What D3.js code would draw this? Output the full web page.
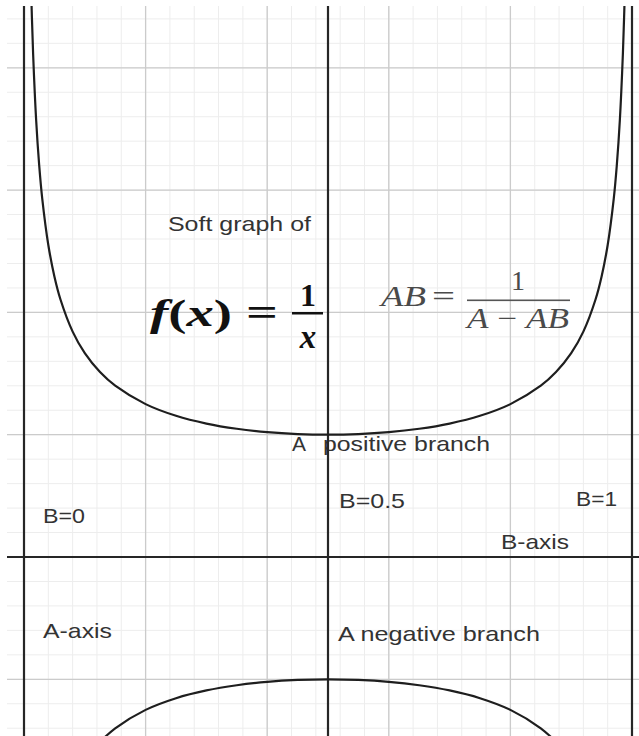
<!DOCTYPE html>
<html>
<head>
<meta charset="utf-8">
<script src="https://cdn.jsdelivr.net/npm/d3@7"></script>
<style>
  html, body { margin: 0; padding: 0; background: #fff; }
  svg { display: block; }
</style>
</head>
<body>
<svg id="chart" width="639" height="736"></svg>
<script>
// ---- Data ----
// B values (horizontal) and the A values of the upper (positive) branch
const bValues = [0.0121, 0.013, 0.015, 0.02, 0.025, 0.03, 0.04, 0.05, 0.06, 0.08, 0.1, 0.125, 0.15, 0.2, 0.25, 0.3, 0.35, 0.4, 0.45, 0.5,
                 0.55, 0.6, 0.65, 0.7, 0.75, 0.8, 0.85, 0.875, 0.9, 0.92, 0.94, 0.95, 0.96, 0.97, 0.975, 0.98, 0.985, 0.987, 0.9879];
const aPositive = [9.146, 8.828, 8.227, 7.143, 6.405, 5.862, 5.103, 4.588, 4.211, 3.686, 3.333, 3.024, 2.801, 2.5, 2.309, 2.182, 2.097, 2.041, 2.010, 2.0,
                   2.010, 2.041, 2.097, 2.182, 2.309, 2.5, 2.801, 3.024, 3.333, 3.686, 4.211, 4.588, 5.103, 5.862, 6.405, 7.143, 8.227, 8.828, 9.146];
// lower (negative) branch, only its visible part
const bNegative = [0.11, 0.125, 0.15, 0.2, 0.25, 0.3, 0.35, 0.4, 0.45, 0.5, 0.55, 0.6, 0.65, 0.7, 0.75, 0.8, 0.85, 0.875, 0.89];
const aNegative = [-3.195, -3.024, -2.801, -2.5, -2.309, -2.182, -2.097, -2.041, -2.010, -2.0, -2.010, -2.041, -2.097, -2.182, -2.309, -2.5, -2.801, -3.024, -3.195];

// Grid values
const bMajor = [0.2, 0.4, 0.6, 0.8];
const bAxes = [0, 0.5, 1];
const aMajor = [-2, 2, 4, 6, 8];
const aAxes = [0];
const bMinorStep = 0.04;
const aMinorStep = 0.4;

// Text labels
const labelTexts = ["Soft graph of", "A", "positive branch", "B=0", "B=0.5", "B=1", "B-axis", "A-axis", "A negative branch"];
const labelB = [0.2368, 0.4408, 0.4918, 0.0313, 0.5181, 0.9079, 0.7845, 0.0313, 0.5164];
const labelA = [5.33, 1.733, 1.733, 0.556, 0.801, 0.834, 0.131, -1.325, -1.374];
const labelW = [143, 14, 167, 42, 66, 41, 68, 69, 202];

// ---- Layout ----
const svg = d3.select("#chart");
const plot = { left: 7, top: 6, right: 639, bottom: 736 };

const x = d3.scaleLinear().domain([0, 1]).range([24, 632]);
const y = d3.scaleLinear().domain([0, 2]).range([557, 434.7]);

svg.append("defs").append("clipPath").attr("id", "clip")
  .append("rect").attr("x", plot.left).attr("y", plot.top)
  .attr("width", plot.right - plot.left).attr("height", plot.bottom - plot.top);

const g = svg.append("g").attr("clip-path", "url(#clip)");

const bLo = x.invert(plot.left), bHi = x.invert(plot.right);
const aLo = y.invert(plot.bottom), aHi = y.invert(plot.top);

// minor grid
const bMinor = d3.range(Math.ceil(bLo / bMinorStep), Math.floor(bHi / bMinorStep) + 1).map(i => +(i * bMinorStep).toFixed(4));
const aMinor = d3.range(Math.ceil(aLo / aMinorStep), Math.floor(aHi / aMinorStep) + 1).map(i => +(i * aMinorStep).toFixed(4));

g.append("g").selectAll("line").data(bMinor).join("line")
  .attr("x1", d => x(d)).attr("x2", d => x(d)).attr("y1", plot.top).attr("y2", plot.bottom)
  .attr("stroke", "#ededed").attr("stroke-width", 1);
g.append("g").selectAll("line").data(aMinor).join("line")
  .attr("y1", d => y(d)).attr("y2", d => y(d)).attr("x1", plot.left).attr("x2", plot.right)
  .attr("stroke", "#ededed").attr("stroke-width", 1);

// major grid
g.append("g").selectAll("line").data(bMajor).join("line")
  .attr("x1", d => x(d)).attr("x2", d => x(d)).attr("y1", plot.top).attr("y2", plot.bottom)
  .attr("stroke", "#cbcbcb").attr("stroke-width", 1.3);
g.append("g").selectAll("line").data(aMajor).join("line")
  .attr("y1", d => y(d)).attr("y2", d => y(d)).attr("x1", plot.left).attr("x2", plot.right)
  .attr("stroke", "#cbcbcb").attr("stroke-width", 1.3);

// ---- Text labels ----
const tg = svg.append("g")
  .attr("font-family", "'Liberation Sans', Arial, sans-serif")
  .attr("font-size", 21)
  .attr("fill", "#333");
tg.selectAll("text").data(labelTexts).join("text")
  .attr("x", (d, i) => x(labelB[i]))
  .attr("y", (d, i) => y(labelA[i]))
  .attr("textLength", (d, i) => labelW[i])
  .attr("lengthAdjust", "spacingAndGlyphs")
  .text(d => d);

// ---- f(x) = 1/x ----
const fx = svg.append("g").attr("fill", "#111").attr("font-family", "'Liberation Serif', 'Times New Roman', serif").attr("font-weight", "bold");
fx.append("text").attr("x", 150).attr("y", 326).attr("font-size", 37)
  .attr("textLength", 82).attr("lengthAdjust", "spacingAndGlyphs")
  .call(t => {
    t.append("tspan").attr("font-style", "italic").text("f");
    t.append("tspan").text("(");
    t.append("tspan").attr("font-style", "italic").text("x");
    t.append("tspan").text(")");
  });
fx.append("text").attr("x", 246).attr("y", 326).attr("font-size", 40)
  .attr("textLength", 32).attr("lengthAdjust", "spacingAndGlyphs").text("=");
fx.append("text").attr("x", 308).attr("y", 306).attr("font-size", 32).attr("text-anchor", "middle").text("1");
fx.append("rect").attr("x", 292).attr("y", 312).attr("width", 31).attr("height", 2.5).attr("fill", "#111");
fx.append("text").attr("x", 308).attr("y", 348).attr("font-size", 33).attr("text-anchor", "middle").attr("font-style", "italic").text("x");

// ---- AB = 1/(A - AB) ----
const ab = svg.append("g").attr("fill", "#4a4a4a").attr("font-family", "'Liberation Serif', 'Times New Roman', serif");
ab.append("text").attr("x", 381).attr("y", 306).attr("font-size", 30).attr("font-style", "italic")
  .attr("textLength", 45).attr("lengthAdjust", "spacingAndGlyphs").text("AB");
ab.append("text").attr("x", 432).attr("y", 306).attr("font-size", 30)
  .attr("textLength", 23).attr("lengthAdjust", "spacingAndGlyphs").text("=");
ab.append("text").attr("x", 518).attr("y", 290).attr("font-size", 28).attr("text-anchor", "middle").text("1");
ab.append("rect").attr("x", 467).attr("y", 299.5).attr("width", 103).attr("height", 1.6).attr("fill", "#555");
ab.append("text").attr("x", 467).attr("y", 328).attr("font-size", 29).attr("font-style", "italic")
  .attr("textLength", 102).attr("lengthAdjust", "spacingAndGlyphs")
  .call(t => {
    t.append("tspan").text("A");
    t.append("tspan").attr("font-style", "normal").text(" \u2212 ");
    t.append("tspan").text("AB");
  });

// ---- axes (dark lines) ----
const ag = svg.append("g").attr("clip-path", "url(#clip)");
ag.selectAll("line.bx").data(bAxes).join("line").attr("class", "bx")
  .attr("x1", d => x(d)).attr("x2", d => x(d)).attr("y1", plot.top).attr("y2", plot.bottom)
  .attr("stroke", "#262626").attr("stroke-width", 2.2);
ag.selectAll("line.ay").data(aAxes).join("line").attr("class", "ay")
  .attr("y1", d => y(d)).attr("y2", d => y(d)).attr("x1", plot.left).attr("x2", plot.right)
  .attr("stroke", "#262626").attr("stroke-width", 2.2);

// ---- curves ----
const line = d3.line().x(d => x(d[0])).y(d => y(d[1])).curve(d3.curveCatmullRom.alpha(0.5));
const cg = svg.append("g").attr("clip-path", "url(#clip)");
cg.append("path").datum(bValues.map((b, i) => [b, aPositive[i]]))
  .attr("d", line).attr("fill", "none").attr("stroke", "#1e1e1e").attr("stroke-width", 2.2);
cg.append("path").datum(bNegative.map((b, i) => [b, aNegative[i]]))
  .attr("d", line).attr("fill", "none").attr("stroke", "#1e1e1e").attr("stroke-width", 2.2);
</script>
</body>
</html>
